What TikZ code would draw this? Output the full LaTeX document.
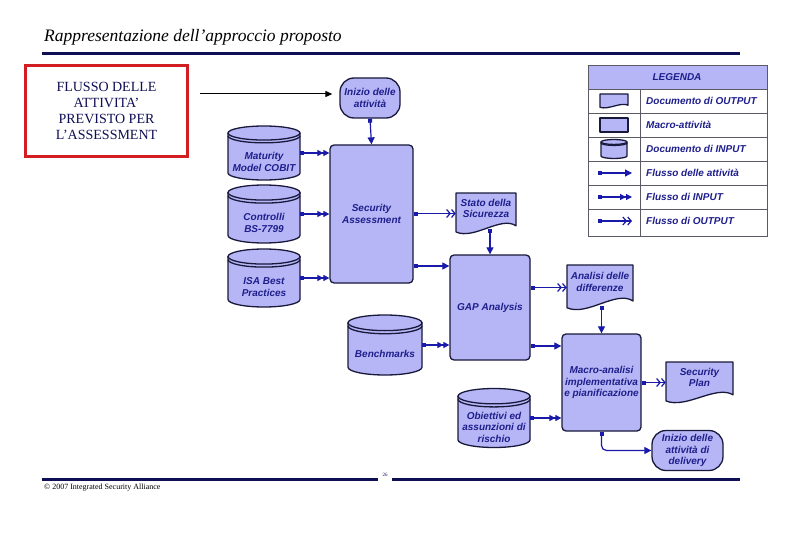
\documentclass[tikz,border=0pt]{standalone}
\usepackage{fontspec}
\setmainfont{Liberation Serif}
\setsansfont{Liberation Sans}
\usetikzlibrary{arrows.meta,calc}
\definecolor{navy}{RGB}{15,15,85}
\definecolor{nodefill}{RGB}{182,182,246}
\definecolor{nodeline}{RGB}{25,25,60}
\definecolor{txtblue}{RGB}{30,30,140}
\definecolor{arrblue}{RGB}{25,25,170}
\definecolor{boxred}{RGB}{210,30,35}
\definecolor{tabline}{RGB}{90,90,100}

\tikzset{
  lbl/.style={font=\sffamily\bfseries\itshape\fontsize{10}{11.5}\selectfont, text=txtblue, align=center, inner sep=0pt},
  shapeline/.style={draw=nodeline, fill=nodefill, line width=1.3pt, line join=round},
  activity/.style={lbl, shapeline, rounded corners=4pt},
  startend/.style={lbl, shapeline, rounded corners=14pt},
  flow/.style={draw=arrblue, line width=1.2pt, {Square[length=4pt,width=4pt]}-{Triangle[length=7pt,width=7pt]}},
  inflow/.style={draw=arrblue, line width=1.2pt, {Square[length=4pt,width=4pt]}-{Triangle[length=6pt,width=6pt] Triangle[length=6pt,width=6pt]}},
  outflow/.style={draw=arrblue, line width=1.2pt, {Square[length=4pt,width=4pt]}-{Straight Barb[length=3.5pt,width=8pt] Straight Barb[length=3.5pt,width=8pt]}},
  legtext/.style={font=\sffamily\bfseries\itshape\fontsize{10}{11.5}\selectfont, text=txtblue, anchor=west, inner sep=0pt},
  rule/.style={draw=navy, line width=3pt},
}

% cylinder: name, cx, cy, w, h, text
\newcommand\cylnode[6]{%
  \pgfmathsetmacro\cylry{0.13*#5}%
  \path[shapeline] ({#2-#4/2},{#3-#5/2+\cylry}) -- ({#2-#4/2},{#3+#5/2-\cylry})
     arc[start angle=180, end angle=0, x radius={#4/2}, y radius=\cylry]
     -- ({#2+#4/2},{#3-#5/2+\cylry}) -- cycle;
  \path[shapeline] (#2,{#3-#5/2+\cylry}) ellipse[x radius={#4/2}, y radius=\cylry];
  \draw[draw=nodeline, line width=1.3pt] ({#2-#4/2},{#3-#5/2+\cylry+0.4*\cylry})
     arc[start angle=180, end angle=0, x radius={#4/2}, y radius=\cylry];
  \node[minimum width=#4, minimum height=#5, inner sep=0pt] (#1) at (#2,#3) {};
  \node[lbl] (#1 text) at (#2,{#3+9}) {#6};
}
% document: name, cx, cy, w, h, text
\newcommand\docnode[6]{%
  \path[shapeline] ({#2-#4/2},{#3-#5/2}) -- ({#2+#4/2},{#3-#5/2}) -- ({#2+#4/2},{#3+#5/2-0.2*#5})
     .. controls ({#2+#4/2-0.25*#4},{#3+#5/2-0.45*#5}) and ({#2-#4/2+0.3*#4},{#3+#5/2+0.15*#5}) ..
     ({#2-#4/2},{#3+#5/2-0.05*#5}) -- cycle;
  \node[minimum width=#4, minimum height=#5, inner sep=0pt] (#1) at (#2,#3) {};
  \node[lbl] (#1 text) at (#2,{#3-0.12*#5}) {#6};
}

\begin{document}
\begin{tikzpicture}[x=1pt,y=-1pt]
\useasboundingbox[fill=white] (0,0) rectangle (810,540);

% title and rules
\node[anchor=base west, inner sep=0pt, font=\itshape\fontsize{17.5}{20}\selectfont, text=black] (title) at (44,42) {Rappresentazione dell’approccio proposto};
\draw[rule] (42,54) -- (740,54);
\draw[rule] (42,479) -- (378,479);
\draw[rule] (392,479) -- (740,479);
\node[inner sep=0pt, font=\fontsize{5}{6}\selectfont, text=navy] (pagenum) at (385,475) {26};
\node[anchor=west, inner sep=0pt, font=\fontsize{8}{9}\selectfont, text=black] (copyright) at (44,488) {© 2007 Integrated Security Alliance};

% red box
\node[draw=boxred, line width=2.5pt, minimum width=162, minimum height=91, align=center,
      font=\fontsize{14}{16}\selectfont, text=navy] (flusso) at (106.5,111)
      {FLUSSO DELLE\\ATTIVITA’\\PREVISTO PER\\L’ASSESSMENT};
\coordinate (flussoarrow) at (200,94);

% legend
\fill[nodefill] (588,65) rectangle (767,89);
\draw[draw=tabline, line width=0.8pt] (588,65) rectangle (767,236);
\foreach \yy in {89,113,137,161,185,209} \draw[draw=tabline, line width=0.8pt] (588,\yy) -- (767,\yy);
\draw[draw=tabline, line width=0.8pt] (640,89) -- (640,236);
\node[legtext, anchor=center] (legenda) at (677,77) {LEGENDA};
\docnode{legdoc}{614}{101}{28}{14}{}
\node[shapeline, minimum width=28, minimum height=14, inner sep=0pt] (legact) at (614,125) {};
\cylnode{legcyl}{614}{149}{26}{19}{}
\node[legtext] (lt1) at (646,101) {Documento di OUTPUT};
\node[legtext] (lt2) at (646,125) {Macro-attività};
\node[legtext] (lt3) at (646,149) {Documento di INPUT};
\node[legtext] (lt4) at (646,173) {Flusso delle attività};
\node[legtext] (lt5) at (646,197) {Flusso di INPUT};
\node[legtext] (lt6) at (646,221) {Flusso di OUTPUT};
\coordinate (la1) at (598,173); \coordinate (lb1) at (632,173);
\coordinate (la2) at (598,197); \coordinate (lb2) at (632,197);
\coordinate (la3) at (598,221); \coordinate (lb3) at (632,221);
\draw[flow] (la1) -- (lb1);
\draw[inflow] (la2) -- (lb2);
\draw[outflow] (la3) -- (lb3);

% main nodes
\node[startend, minimum width=60, minimum height=40] (inizio) at (370,98) {Inizio delle\\attività};
\node[activity, minimum width=83, minimum height=138] (sa) at (371.5,214) {Security\\Assessment};
\node[activity, minimum width=80, minimum height=105] (gap) at (490,307.5) {GAP Analysis};
\node[activity, minimum width=79, minimum height=97] (macro) at (601.5,382.5) {Macro-analisi\\implementativa\\e pianificazione};
\node[startend, minimum width=71, minimum height=40] (delivery) at (687.5,450.5) {Inizio delle\\attività di\\delivery};

\docnode{stato}{486}{213.5}{60}{41}{Stato della\\Sicurezza}
\docnode{analisi}{600}{287.5}{66}{45}{Analisi delle\\differenze}
\docnode{plan}{699.5}{382.5}{67}{41}{Security\\Plan}

\cylnode{cobit}{264}{153}{72}{54}{Maturity\\Model COBIT}
\cylnode{bs}{264}{214}{72}{58}{Controlli\\BS-7799}
\cylnode{isa}{264}{278}{72}{58}{ISA Best\\Practices}
\cylnode{bench}{385}{345}{74}{60}{Benchmarks}
\cylnode{obiettivi}{494}{418}{72}{59}{Obiettivi ed\\assunzioni di\\rischio}

% connectors
\draw[-{Triangle[length=7pt,width=6pt]}, line width=1pt, black] (flussoarrow) -- ([xshift=-7pt]inizio.west |- flussoarrow);
\draw[flow] (inizio.south) -- (sa.north);
\draw[inflow] (cobit.east) -- (sa.west |- cobit.east);
\draw[inflow] (bs.east) -- (sa.west |- bs.east);
\draw[inflow] (isa.east) -- (sa.west |- isa.east);
\draw[outflow] (sa.east |- stato.west) -- (stato.west);
\coordinate (sagap) at (0,266);
\draw[flow] (sa.east |- sagap) -- (gap.west |- sagap);
\draw[flow] ([yshift=5pt]gap.north |- stato.south) -- (gap.north);
\draw[inflow] (bench.east) -- (gap.west |- bench.east);
\draw[outflow] (gap.east |- analisi.west) -- (analisi.west);
\coordinate (gapmacro) at (0,346);
\draw[flow] (gap.east |- gapmacro) -- (macro.west |- gapmacro);
\draw[flow] ([yshift=4pt]macro.north |- analisi.south) -- (macro.north);
\draw[inflow] (obiettivi.east) -- (macro.west |- obiettivi.east);
\draw[outflow] (macro.east) -- (plan.west);
\draw[flow, rounded corners=5pt] (macro.south) |- (delivery.west);
\end{tikzpicture}
\end{document}
